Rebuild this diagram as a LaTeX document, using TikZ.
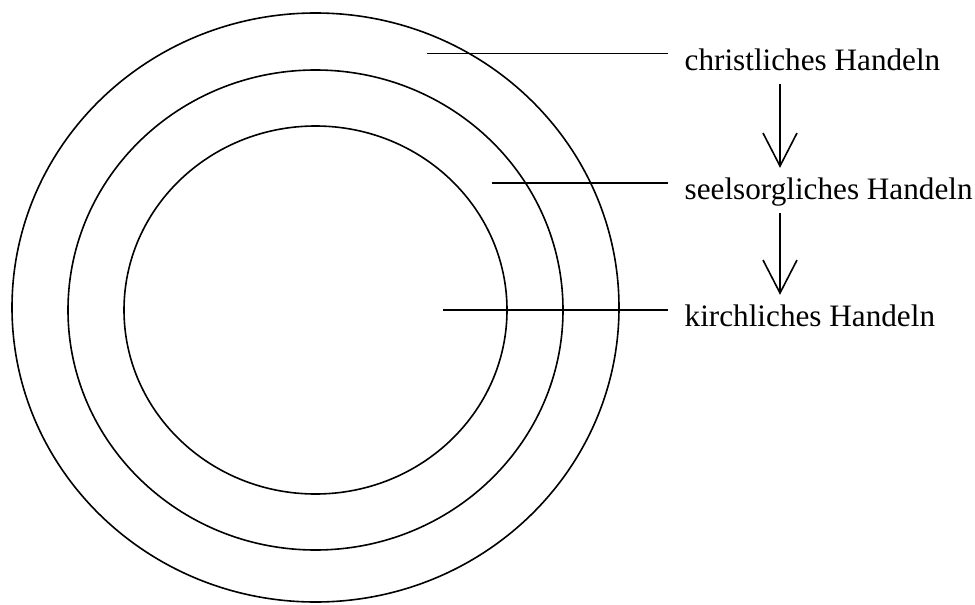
\documentclass[tikz,border=0pt]{standalone}
\usepackage{fontspec}
\setmainfont{Liberation Serif}
\usetikzlibrary{arrows.meta}
\begin{document}
\begin{tikzpicture}[x=1pt,y=-1pt,
  ring/.style={draw=black,line width=1.6pt},
  leader/.style={draw=black,line width=1.7pt},
  label/.style={anchor=base west,inner xsep=16.5pt,inner ysep=0pt,
    text height=31pt,text depth=14pt,
    font=\fontsize{31.2}{36}\selectfont},
  arr/.style={draw=black,line width=1.6pt,-{Straight Barb[length=33pt,width=34pt,line width=1.6pt]}}]
\useasboundingbox (0,0) rectangle (975,605);
% rings
\draw[ring] (315.5,307.5) ellipse [x radius=303.5pt,y radius=294.5pt];
\draw[ring] (315.5,310) ellipse [x radius=247.5pt,y radius=240pt];
\draw[ring] (315.5,310) ellipse [x radius=191.5pt,y radius=184pt];
% labels
\node[label] (t1) at (668,70) {christliches Handeln};
\node[label] (t2) at (668,199) {seelsorgliches Handeln};
\node[label] (t3) at (668,326) {kirchliches Handeln};
% leader start points
\coordinate (c1) at (427,53.5);
\coordinate (c2) at (492,183);
\coordinate (c3) at (443,310);
\coordinate (ax) at (780,0);
\draw[leader] (c1) -- (c1 -| t1.west);
\draw[leader] (c2) -- (c2 -| t2.west);
\draw[leader] (c3) -- (c3 -| t3.west);
% arrows
\draw[arr] (t1.south -| ax) -- (t2.north -| ax);
\draw[arr] (t2.south -| ax) -- (t3.north -| ax);
\end{tikzpicture}
\end{document}
